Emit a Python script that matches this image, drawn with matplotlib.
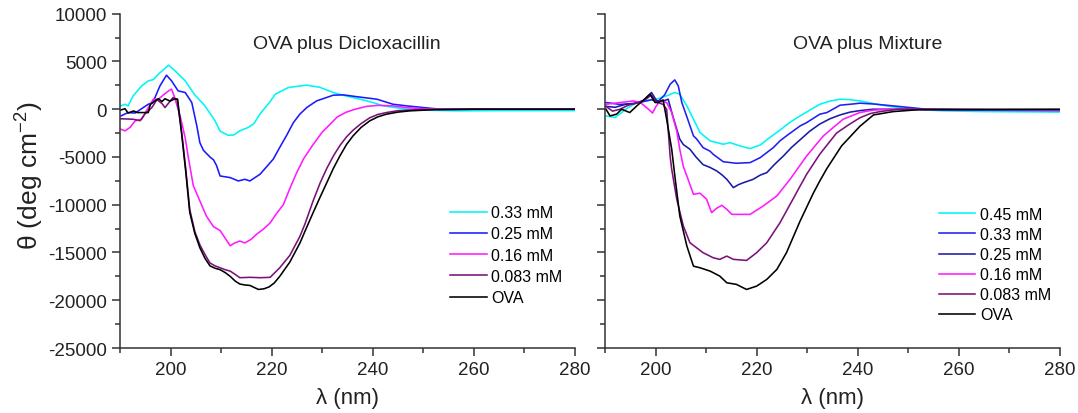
import matplotlib
matplotlib.use('Agg')
import matplotlib.pyplot as plt
from matplotlib.ticker import MultipleLocator

plt.rcParams['font.family'] = ['Liberation Sans', 'DejaVu Sans']
plt.rcParams['mathtext.fontset'] = 'custom'
plt.rcParams['mathtext.rm'] = 'Liberation Sans'
plt.rcParams['mathtext.it'] = 'Liberation Sans'
plt.rcParams['axes.unicode_minus'] = False

# ---- OVA plus Dicloxacillin ----
dic_033_wl = [190.2, 191, 191.6, 192.6, 194.3, 195.6, 196.6, 197.6, 199.6, 200.9, 202.9, 204.8, 206.8,
              208.8, 209.8, 211.4, 212.5, 213.7, 215.4, 216.5, 217.7, 219.7, 220.7, 223.3, 226.9, 229.5,
              232.2, 234.2, 237.5, 240, 242.1, 246.7, 250, 256.6, 265, 280]
dic_033 = [350, 520, 350, 1400, 2440, 2970, 3100, 3670, 4610, 4020, 2970, 1500, 350,
           -1220, -2300, -2730, -2700, -2270, -1900, -1500, -500, 800, 1570, 2270, 2520, 2300,
           1750, 1450, 1050, 700, 350, 0, -100, -170, -150, -150]

dic_025_wl = [190.2, 191.6, 193, 194.6, 195.6, 196.5, 197.9, 199.2, 200.2, 201.5, 202.9, 204.2, 205.2,
              205.8, 206.5, 207.8, 208.5, 209.1, 209.8, 211.8, 213.4, 214.7, 215.7, 217.7, 220.3, 221.6,
              223, 224.3, 225.6, 227, 228.9, 232.2, 234.2, 237, 240.8, 244, 246.7, 253.3, 280]
dic_025 = [-700, -350, -400, 170, 520, 700, 2440, 3560, 2970, 1920, 1750, 700, -1750,
           -3500, -4300, -5000, -5300, -5900, -6990, -7160, -7510, -7340, -7510, -6810, -5240, -4000,
           -2700, -1400, -500, 200, 870, 1470, 1500, 1300, 1050, 520, 350, 0, 0]

dic_016_wl = [190.2, 191, 192, 193, 194.3, 195.6, 196.6, 197.6, 198.6, 199.6, 200.2, 200.7, 201.9,
              202.9, 203.5, 204.5, 205.8, 207.1, 208.5, 209.8, 210.8, 211.8, 212.7, 213.7, 214.7, 216,
              217, 218.5, 219.7, 221, 222.3, 223.6, 224.9, 226.3, 228.2, 230, 231.5, 233, 234.8, 236.5,
              238.8, 241, 244, 247, 250, 255, 280]
dic_016 = [-2100, -2270, -1900, -1220, -1050, 170, 1050, 1050, 1500, 1920, 2100, 1400, -700,
           -3000, -5000, -8000, -9600, -11200, -12300, -12700, -13500, -14300, -14000, -13800, -14000, -13600,
           -13100, -12500, -11900, -10900, -10000, -8300, -6700, -5200, -3700, -2400, -1600, -800, -300, 0,
           300, 400, 350, 150, 50, 0, 0]

dic_0083_wl = [190.2, 192.6, 194, 194.9, 196.3, 197.3, 198.3, 198.9, 199.7, 200.5, 201.3, 202.2, 203,
               203.8, 204.8, 205.8, 206.8, 207.8, 208.8, 209.8, 210.8, 211.8, 212.8, 213.7, 215.7, 217.8,
               219.7, 221.6, 223.6, 225.6, 226.6, 228.2, 229.6, 230.9, 232.2, 233.5, 234.8, 236.1, 237.7,
               239.4, 241, 242.7, 245, 250, 260, 280]
dic_0083 = [-1000, -1050, -1200, -520, 170, 1000, 600, 170, 700, 1220, 1000, -2400, -6200,
            -10500, -12800, -14200, -15200, -16100, -16400, -16600, -16800, -16950, -17300, -17640, -17600, -17640,
            -17600, -16600, -15300, -13300, -12000, -9600, -7700, -6200, -4900, -3800, -2900, -2200, -1500,
            -900, -550, -350, -150, -30, 0, 0]

dic_ova_wl = [190, 191, 191.6, 192.7, 193.4, 194.5, 195.6, 196, 197, 197.6, 198.3, 198.9, 199.9, 200.9,
              201.4, 202.2, 203, 203.8, 204.8, 205.8, 206.8, 207.8, 208.8, 209.8, 210.8, 211.8, 212.8,
              213.7, 214.7, 215.7, 216.7, 217.4, 218.5, 219.5, 220.5, 221.6, 223.6, 225.6, 226.9, 228.2,
              229.5, 230.9, 232.2, 233.5, 234.8, 236.1, 237.7, 239.4, 241, 242.7, 245, 247.4, 252, 260, 280]
dic_ova = [-100, 50, -400, -180, -350, -350, -350, 500, 900, 1100, 800, 1100, 850, 1100,
           1050, -2600, -6500, -10800, -13000, -14500, -15600, -16400, -16650, -16800, -17100, -17500, -18000,
           -18300, -18400, -18450, -18700, -18870, -18800, -18600, -18200, -17500, -16000, -14000, -12400, -10830,
           -9300, -7700, -6200, -4890, -3700, -2790, -1900, -1220, -800, -520, -300, -170, -50, 0, 0]

# ---- OVA plus Mixture ----
mix_045_wl = [190.2, 192, 194.3, 196.3, 198.2, 200.2, 202.2, 203.8, 204.8, 206.2, 207.5, 208.8, 210.8,
              212.1, 213.4, 214.7, 216.7, 218.7, 220.7, 222.5, 224.6, 226.5, 228.6, 230.5, 232.5, 234.5,
              236.5, 238.5, 240.4, 243, 245.7, 250.3, 256.9, 265, 280]
mix_045 = [-700, -870, 70, 700, 870, 1050, 1400, 1750, 1570, 350, -1050, -2440, -3320,
           -3490, -3670, -3500, -3840, -4120, -3750, -3000, -2200, -1400, -700, -100, 520, 850,
           1050, 1000, 870, 600, 350, 0, -170, -250, -300]

mix_033_wl = [190.2, 193, 195.5, 197.6, 199.2, 200.5, 201.8, 202.9, 203.8, 204.5, 205.2, 206.2, 207.5,
              208.1, 209.4, 210.8, 211.4, 213.4, 216, 218.7, 220.7, 223.3, 224.6, 225.9, 228.6, 229.9,
              232.5, 233.9, 236.5, 239.1, 240.4, 243, 247, 253.6, 265, 280]
mix_033 = [700, 500, 600, 800, 1000, 800, 1500, 2620, 3070, 2440, 700, -800, -2790,
           -3100, -4020, -4400, -4720, -5500, -5660, -5590, -5070, -4020, -3320, -2790, -1750, -1400,
           -520, -350, 420, 550, 630, 550, 350, 0, -100, -150]

mix_025_wl = [190.2, 192, 194, 196, 197.6, 199.2, 200.2, 201.2, 202.5, 203.3, 204.2, 204.8, 205.5,
              206.8, 208, 209.4, 210.8, 212.1, 213.2, 214.1, 215.4, 216.4, 217.4, 219.3, 220.7, 222,
              223.5, 225.3, 226.9, 228.6, 230.5, 232.5, 234.5, 236.5, 238.5, 240.4, 243, 280]
mix_025 = [300, 200, 500, 600, 900, 1750, 900, 800, 1050, -500, -2100, -3140, -3700,
           -4190, -5000, -5800, -6100, -6460, -6900, -7340, -8210, -7900, -7690, -7340, -6900, -6640,
           -5800, -4890, -4000, -3200, -2300, -1550, -1000, -600, -300, -150, 0, -100]

mix_016_wl = [190.2, 193, 195.6, 197, 198.6, 199.4, 200.1, 200.9, 202.2, 203.2, 204.2, 204.8, 205.5,
              206.2, 207.5, 208.8, 210.1, 211.1, 212, 213.1, 214.1, 215.1, 218.7, 221.3, 224, 226.6,
              229.9, 233.2, 237.1, 240.4, 243, 246, 280]
mix_016 = [520, 700, 870, 700, 0, -400, 300, 870, 700, -350, -2300, -4200, -6000,
           -7000, -8910, -8790, -9430, -10830, -10400, -10060, -10480, -11010, -11010, -10130, -9080, -7340,
           -4890, -2790, -1050, -350, -100, 0, -100]

mix_0083_wl = [190.2, 191.5, 193, 194.5, 196.5, 198, 199.2, 200, 201.5, 202.2, 202.9, 203.2, 204.2,
               205.5, 206.8, 208.1, 209.4, 211.4, 212.7, 214.1, 215.4, 218, 220, 222, 224.6, 227.2,
               228.6, 229.9, 232.5, 235.8, 238, 240.4, 242.5, 244.4, 248, 280]
mix_0083 = [300, -200, 0, 400, 700, 1000, 1500, 800, 500, 0, -5000, -6300, -9430,
            -12230, -13980, -14500, -15020, -15550, -15720, -15380, -15720, -15830, -15020, -13980, -11900, -9400,
            -8040, -6800, -4700, -2500, -1700, -900, -450, -250, 0, -50]

mix_ova_wl = [190.2, 191, 192.3, 193.3, 194.9, 196.3, 197.5, 198.9, 199.9, 200.5, 201.5, 202.2, 203.2,
              203.8, 204.8, 206.2, 207.5, 208.8, 210.8, 212.7, 214.1, 216, 218, 220, 222, 224, 225.9,
              228.6, 231.2, 232.5, 233.9, 236.8, 240.4, 243.1, 247, 252, 280]
mix_ova = [0, -700, -520, 0, -350, 350, 900, 1570, 700, 700, 970, -1050, -4190,
           -6900, -11180, -14330, -16430, -16600, -16950, -17470, -18170, -18340, -18870, -18520, -17820, -16770, -15020,
           -11700, -8800, -7500, -6200, -3840, -1800, -600, -250, -50, 0]

dic_labels = ['0.33 mM', '0.25 mM', '0.16 mM', '0.083 mM', 'OVA']
mix_labels = ['0.45 mM', '0.33 mM', '0.25 mM', '0.16 mM', '0.083 mM', 'OVA']

dic_series = [(dic_033_wl, dic_033), (dic_025_wl, dic_025), (dic_016_wl, dic_016),
              (dic_0083_wl, dic_0083), (dic_ova_wl, dic_ova)]
mix_series = [(mix_045_wl, mix_045), (mix_033_wl, mix_033), (mix_025_wl, mix_025),
              (mix_016_wl, mix_016), (mix_0083_wl, mix_0083), (mix_ova_wl, mix_ova)]

dic_colors = ['#00f5f5', '#1a1aff', '#ff1aff', '#7a127a', '#000000']
mix_colors = ['#00f5f5', '#2020f0', '#1a1aa8', '#ff1aff', '#7a127a', '#000000']

fig = plt.figure(figsize=(10.78, 4.14), dpi=100)
ax1 = fig.add_axes([0.1113, 0.157, 0.4221, 0.8075])
ax2 = fig.add_axes([0.5612, 0.157, 0.4221, 0.8075])

for ax, series, colors, labels in [(ax1, dic_series, dic_colors, dic_labels),
                                   (ax2, mix_series, mix_colors, mix_labels)]:
    for (wl, th), c, lab in zip(series, colors, labels):
        ax.plot(wl, th, color=c, lw=1.15, label=lab)
    ax.set_xlim(190, 280)
    ax.set_ylim(-25000, 10000)
    ax.xaxis.set_major_locator(MultipleLocator(20))
    ax.xaxis.set_minor_locator(MultipleLocator(10))
    ax.yaxis.set_major_locator(MultipleLocator(5000))
    ax.yaxis.set_minor_locator(MultipleLocator(2500))
    ax.spines['top'].set_visible(False)
    ax.spines['right'].set_visible(False)
    for s in ['left', 'bottom']:
        ax.spines[s].set_color('#333333')
        ax.spines[s].set_linewidth(1.1)
    ax.tick_params(which='major', direction='out', length=6, width=1.1, colors='#333333',
                   labelsize=13.5, labelcolor='#222222')
    ax.tick_params(which='minor', direction='out', length=3.5, width=1.1, colors='#333333')
    ax.set_xlabel('λ (nm)', fontsize=16, color='#222222', labelpad=6)

ax2.tick_params(axis='y', which='both', labelleft=False)

ax1.text(0.498, 0.91, 'OVA plus Dicloxacillin', transform=ax1.transAxes,
         ha='center', va='center', fontsize=14, color='#222222')
ax2.text(0.577, 0.91, 'OVA plus Mixture', transform=ax2.transAxes,
         ha='center', va='center', fontsize=14, color='#222222')

fig.text(0.028, 0.575, r'θ (deg cm$^{-2}$)', rotation=90, ha='center', va='center',
         fontsize=19, color='#222222')

ax1.legend(loc='upper left', bbox_to_anchor=(0.725, 0.427), frameon=False, fontsize=11.5,
           handlelength=2.3, handletextpad=0.3, labelspacing=0.39, borderpad=0, borderaxespad=0)
ax2.legend(loc='upper left', bbox_to_anchor=(0.733, 0.422), frameon=False, fontsize=11.5,
           handlelength=2.3, handletextpad=0.3, labelspacing=0.32, borderpad=0, borderaxespad=0)

fig.savefig('out.png', dpi=100)
